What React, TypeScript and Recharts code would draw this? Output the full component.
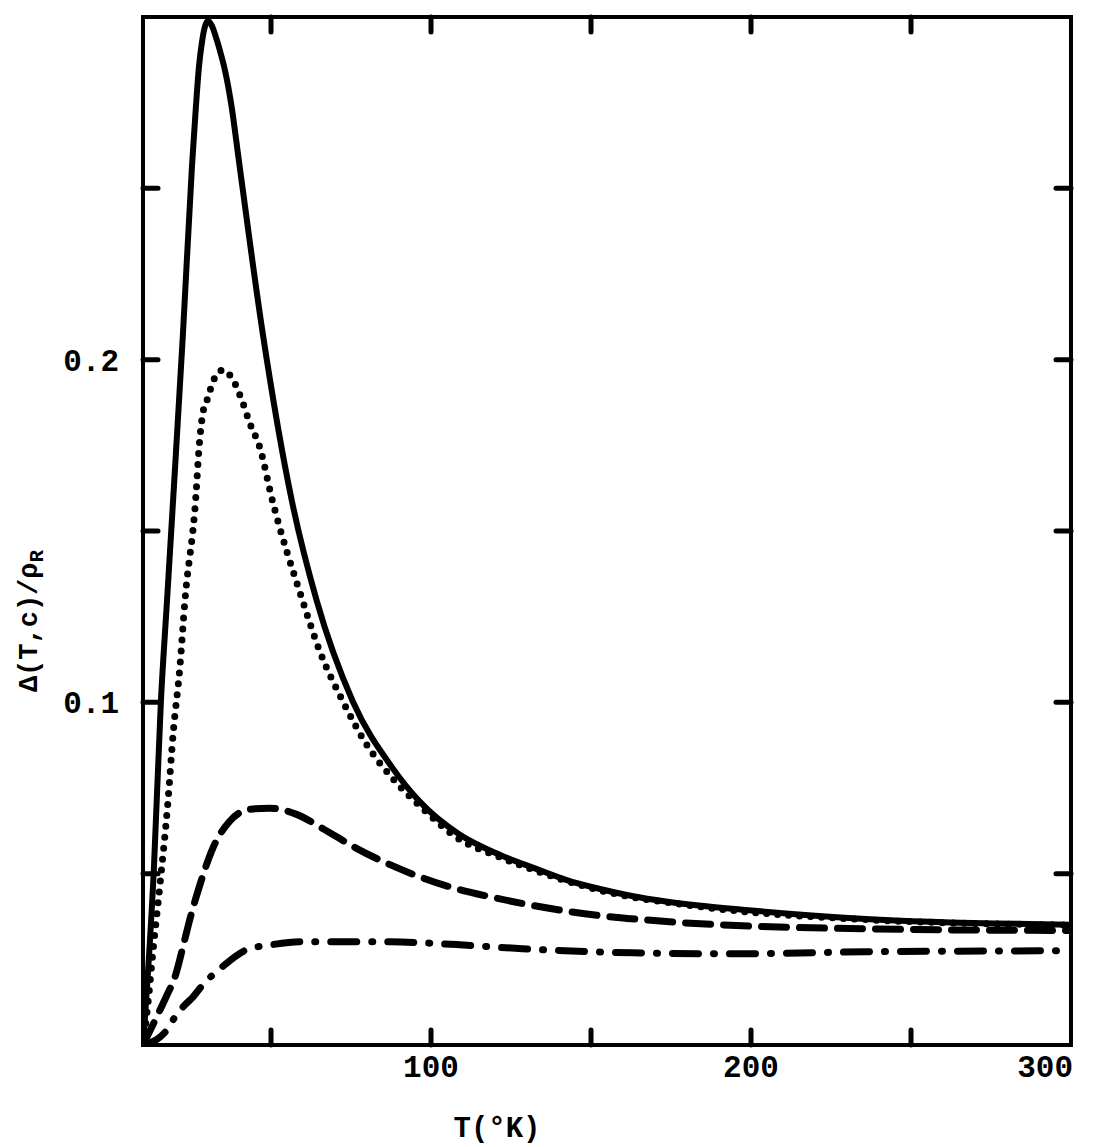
import { LineChart, Line, XAxis, YAxis } from 'recharts';

// Temperature (K) and Δ(T,c)/ρR, one pair of lists per curve
const solidT = [10, 13.4, 15.6, 17.5, 19.4, 22.5, 25.3, 26.4, 27.5, 28.4, 29.3, 30.3, 31.5, 33.0, 34.3, 35.6, 37.5, 40.2, 47.4, 56.5, 64.3, 75.5, 88.0, 96.4, 108.8, 121.3, 132.9, 142.2, 152.5, 162.8, 173.4, 183.7, 198.3, 235.8, 300];
const solidV = [0, 0.0515, 0.1004, 0.1296, 0.1589, 0.2078, 0.2564, 0.272, 0.2856, 0.2925, 0.297, 0.2988, 0.2975, 0.2935, 0.2893, 0.2845, 0.275, 0.2564, 0.2078, 0.1589, 0.1296, 0.1004, 0.0808, 0.0711, 0.0615, 0.0556, 0.0514, 0.0482, 0.0456, 0.0435, 0.0419, 0.0407, 0.0394, 0.0368, 0.0351];

const dottedT = [10, 11.6, 13.1, 15.3, 17.8, 19.4, 21.5, 23.1, 26.5, 27.5, 28.7, 30.0, 32.5, 35.0, 37.8, 40.9, 43.4, 46.5, 50.2, 59.9, 65.2, 72.4, 79.8, 88.0, 97.3, 107.9, 121.3, 133.8, 152.5, 183.7, 235.8, 300];
const dottedV = [0, 0.0126, 0.0272, 0.0468, 0.0711, 0.0907, 0.110, 0.1296, 0.1598, 0.1741, 0.1844, 0.1882, 0.1949, 0.197, 0.1946, 0.1882, 0.1814, 0.1744, 0.1598, 0.1296, 0.115, 0.1004, 0.0878, 0.0778, 0.0691, 0.0606, 0.0549, 0.0505, 0.0452, 0.0404, 0.0366, 0.0350];

const dashedT = [10, 15.3, 17.5, 20.0, 22.5, 24.7, 27.8, 31.8, 37.1, 43.4, 49.6, 58.0, 66.1, 76.7, 87.0, 97.3, 105.7, 118.2, 129.7, 142.2, 153.4, 165.9, 178.4, 189.9, 235.8, 300];
const dashedV = [0, 0.0102, 0.0146, 0.0199, 0.0287, 0.0369, 0.0468, 0.0574, 0.0653, 0.0688, 0.0691, 0.0673, 0.0632, 0.0574, 0.0527, 0.0488, 0.0462, 0.0433, 0.0411, 0.0391, 0.0377, 0.0366, 0.0357, 0.0351, 0.0339, 0.0334];

const dashDotT = [10, 15.3, 17.5, 20.0, 23.1, 25.6, 28.7, 34.0, 42.4, 50.5, 59.0, 69.2, 87.0, 107.9, 128.5, 162.8, 194.0, 235.8, 300];
const dashDotV = [0, 0.0023, 0.0044, 0.0082, 0.0117, 0.014, 0.0176, 0.0222, 0.0278, 0.0293, 0.0301, 0.0301, 0.0301, 0.0293, 0.0281, 0.0269, 0.0266, 0.0272, 0.0275];

// axis ticks and which of them carry a number
const xTicks = [50, 100, 150, 200, 250, 300];
const xLabels = [100, 200, 300];
const yTicks = [0.05, 0.1, 0.15, 0.2, 0.25];
const yLabels = [0.1, 0.2];

interface Point {
    t: number;
    v: number;
}

const toPoints = (ts: number[], vs: number[]): Point[] => ts.map((t, i) => ({ t, v: vs[i] }));

const FONT = '"Liberation Mono", "DejaVu Sans Mono", monospace';
const TICK_LEN = 15;

const tickLine = { stroke: '#000', strokeWidth: 5, strokeLinecap: 'round' as const };

const BottomTick = (props: any) => {
    const { x, y, payload } = props;
    const v = payload.value;
    return (
        <g>
            {v < 300 && <line x1={x} y1={y} x2={x} y2={y - TICK_LEN} {...tickLine} />}
            {xLabels.includes(v) && (
                <text x={v === 300 ? x + 2 : x} y={y + 32} textAnchor={v === 300 ? 'end' : 'middle'}
                    fontFamily={FONT} fontWeight="bold" fontSize={31} fill="#000">{v}</text>
            )}
        </g>
    );
};

const TopTick = (props: any) => {
    const { x, y, payload } = props;
    if (payload.value >= 300) return <g />;
    return <line x1={x} y1={y} x2={x} y2={y + TICK_LEN} {...tickLine} />;
};

const LeftTick = (props: any) => {
    const { x, y, payload } = props;
    const v = payload.value;
    return (
        <g>
            <line x1={x} y1={y} x2={x + TICK_LEN} y2={y} {...tickLine} />
            {yLabels.includes(v) && (
                <text x={x - 24} y={y + 11} textAnchor="end"
                    fontFamily={FONT} fontWeight="bold" fontSize={31} fill="#000">{v.toFixed(1)}</text>
            )}
        </g>
    );
};

const RightTick = (props: any) => {
    const { x, y } = props;
    return <line x1={x} y1={y} x2={x - TICK_LEN} y2={y} {...tickLine} />;
};

const XLabel = (props: any) => {
    const vb = props.viewBox || { x: 143, y: 1045 };
    return (
        <text x={vb.x + 354} y={vb.y + 92} textAnchor="middle"
            fontFamily={FONT} fontWeight="bold" fontSize={29} fill="#000">T(°K)</text>
    );
};

const YLabel = () => {
    const cx = 37;
    const cy = 621;
    return (
        <text x={cx} y={cy} transform={`rotate(-90, ${cx}, ${cy})`} textAnchor="middle"
            fontFamily={FONT} fontWeight="bold" fontSize={27} fill="#000">
            Δ(T,c)/ρ<tspan fontSize={21} dy={6}>R</tspan>
        </text>
    );
};

const frame = { stroke: '#000', strokeWidth: 4, strokeLinecap: 'square' as const };

const App = () => {
    const solid = toPoints(solidT, solidV);
    const dotted = toPoints(dottedT, dottedV);
    const dashed = toPoints(dashedT, dashedV);
    const dashDot = toPoints(dashDotT, dashDotV);

    return (
        <div style={{ position: 'absolute', left: 0, top: 0, background: '#fff' }}>
            <LineChart width={1093} height={1147} margin={{ top: 0, right: 0, bottom: 0, left: 0 }}>
                <XAxis xAxisId="b" dataKey="t" type="number" domain={[10, 300]} allowDataOverflow
                    orientation="bottom" height={102} ticks={xTicks} interval={0}
                    tick={<BottomTick />} tickLine={false} tickSize={0} tickMargin={0}
                    axisLine={frame} label={<XLabel />} />
                <XAxis xAxisId="t" dataKey="t" type="number" domain={[10, 300]} allowDataOverflow
                    orientation="top" height={17} ticks={xTicks} interval={0}
                    tick={<TopTick />} tickLine={false} tickSize={0} tickMargin={0}
                    axisLine={frame} />
                <YAxis yAxisId="l" type="number" domain={[0, 0.3]} allowDataOverflow
                    orientation="left" width={143} ticks={yTicks} interval={0}
                    tick={<LeftTick />} tickLine={false} tickSize={0} tickMargin={0}
                    axisLine={frame} label={<YLabel />} />
                <YAxis yAxisId="r" type="number" domain={[0, 0.3]} allowDataOverflow
                    orientation="right" width={22} ticks={yTicks} interval={0}
                    tick={<RightTick />} tickLine={false} tickSize={0} tickMargin={0}
                    axisLine={frame} />

                <Line data={dashDot} xAxisId="b" yAxisId="l" dataKey="v" type="monotone" stroke="#000"
                    strokeWidth={7} strokeLinecap="round" strokeDasharray="26 15 1 15"
                    dot={false} isAnimationActive={false} />
                <Line data={dashed} xAxisId="b" yAxisId="l" dataKey="v" type="monotone" stroke="#000"
                    strokeWidth={7} strokeLinecap="round" strokeDasharray="25 13"
                    dot={false} isAnimationActive={false} />
                <Line data={dotted} xAxisId="b" yAxisId="l" dataKey="v" type="monotone" stroke="#000"
                    strokeWidth={7} strokeLinecap="round" strokeDasharray="0 11"
                    dot={false} isAnimationActive={false} />
                <Line data={solid} xAxisId="b" yAxisId="l" dataKey="v" type="monotone" stroke="#000"
                    strokeWidth={6} dot={false} isAnimationActive={false} />
            </LineChart>
        </div>
    );
};

export default App;
